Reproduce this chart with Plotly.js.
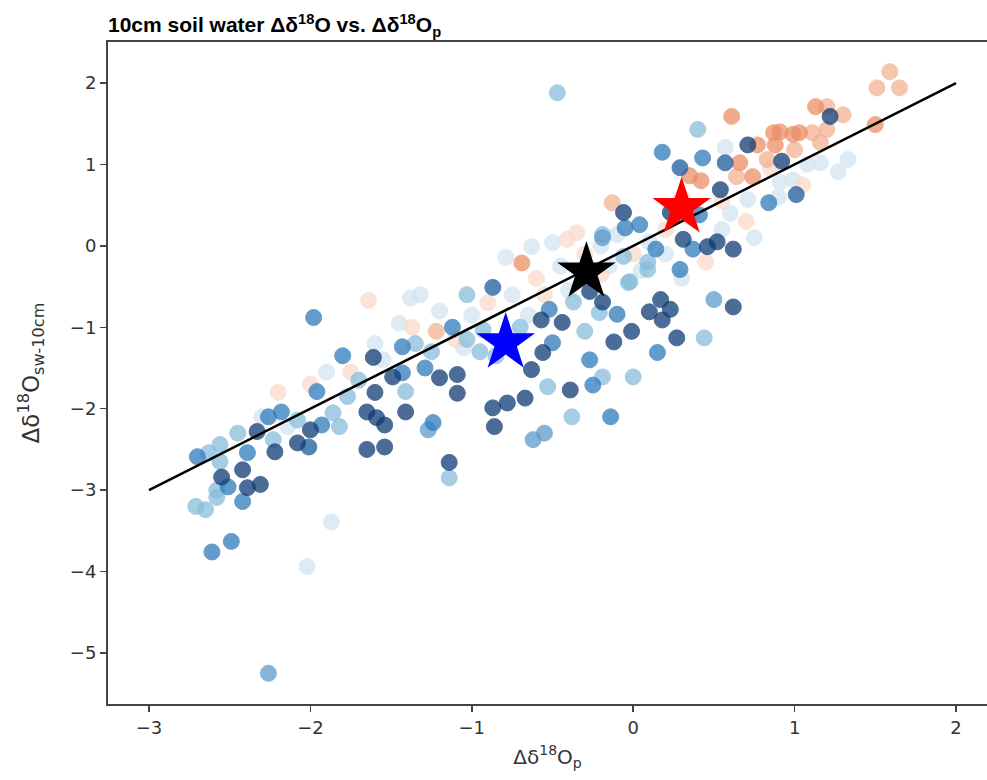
<!DOCTYPE html>
<html>
<head>
<meta charset="utf-8">
<script src="https://cdn.plot.ly/plotly-3.0.1.min.js"></script>
<style>html,body{margin:0;padding:0;background:#fff;}#chart{width:987px;height:780px;}</style>
</head>
<body>
<div id="chart"></div>
<script>
// ---- data ----
const veryLightX = [-2.14,-1.87,-2.02,-1.38,-1.32,-0.79,-0.63,-0.50,-0.10,0.57,1.16,1.33,1.27,1.08,0.91,0.99,0.71,-1.55,-1.00,-0.75,-0.45,-0.15,0.10,0.35,-1.90,-1.60,-1.45,-0.40,0.30,0.55,0.90,-2.30,-1.20,0.20,-0.20,0.60,-1.05,-0.65,0.05,0.75];
const veryLightY = [-2.22,-3.39,-3.94,-0.64,-0.60,-0.14,-0.01,0.04,0.14,1.21,1.02,1.06,0.91,1.00,0.78,0.81,0.57,-1.40,-0.85,-0.60,-0.25,-0.25,0.05,0.35,-1.55,-1.20,-0.95,-0.55,-0.40,0.20,0.60,-2.10,-0.80,-0.10,0.00,0.40,-1.25,-0.85,-0.30,0.10];

const paleOrangeX = [-1.64,-1.37,-0.35,-0.41,-0.90,-0.60,-0.30,0.00,0.20,-2.20,-2.00,-0.55,0.45,0.70,1.05,-1.10,-1.75,0.30,0.55,-0.20,0.85];
const paleOrangeY = [-0.67,-1.00,0.16,0.08,-0.70,-0.40,-0.10,-0.10,0.20,-1.80,-1.70,-0.60,-0.20,0.30,0.75,-1.15,-1.55,0.60,0.55,-0.35,0.95];

const orangeLightX = [1.59,1.51,1.65,1.30,1.20,1.11,1.16,1.20,1.00,0.83,0.64,-0.13,-1.22];
const orangeLightY = [2.14,1.94,1.94,1.61,1.71,1.39,1.27,1.43,1.18,1.06,0.85,0.53,-1.05];

const orangeX = [1.50,0.61,1.13,0.77,0.66,0.87,0.91,0.99,1.03,0.88,0.74,0.42,-0.69,0.35];
const orangeY = [1.49,1.59,1.71,1.24,1.02,1.39,1.40,1.37,1.39,1.24,0.85,0.80,-0.21,0.86];

const lightX = [-2.63,-2.56,-2.56,-2.45,-2.58,-2.58,-2.71,-2.65,-2.23,-1.86,-1.77,-2.08,-1.82,-1.14,-1.03,-1.41,-0.53,-1.03,-0.93,-0.19,0.09,-0.02,0.44,-0.30,-0.19,0.00,-0.38,-0.37,-0.21,0.40,-0.06,0.09,-0.03,-0.47,-0.85,-0.70,-0.95,-1.70,-1.35,-1.25];
const lightY = [-2.54,-2.44,-2.65,-2.30,-3.00,-3.09,-3.20,-3.24,-2.38,-2.05,-1.85,-2.14,-2.22,-2.85,-0.60,-1.79,-1.73,-1.15,-1.03,0.14,-0.20,-0.44,-1.13,-1.05,-1.61,-1.61,-2.10,-0.69,-0.82,1.43,-0.13,-0.29,-0.45,1.88,-1.35,-1.00,-1.30,-1.65,-1.20,-1.30];

const lightMedX = [-2.26,-1.27,-0.62,-0.55,0.50,-0.19];
const lightMedY = [-5.25,-2.26,-2.38,-2.30,-0.66,0.10];

const mediumX = [-2.70,-2.39,-2.51,-2.42,-2.26,-2.18,-1.93,-1.96,-2.61,-2.49,-1.98,-1.80,-1.43,-1.12,-1.43,-1.29,-1.24,-0.05,0.04,0.37,0.29,0.14,0.15,-0.10,-0.50,-0.27,-0.25,-0.14,-0.52,0.18,0.43,0.84,0.41];
const mediumY = [-2.59,-2.54,-2.96,-3.14,-2.10,-2.04,-2.20,-1.79,-3.76,-3.63,-0.88,-1.35,-1.24,-1.00,-1.56,-1.50,-2.17,0.22,0.26,-0.04,-0.29,-0.04,-1.31,-0.84,-1.19,-1.40,-1.71,-2.10,-0.78,1.15,1.08,0.53,0.38];

const medDarkX = [-2.01,-0.87,0.29,0.57,1.01];
const medDarkY = [-2.47,-0.51,0.96,1.02,0.63];

const darkX = [-2.42,-2.55,-2.39,-2.31,-2.33,-2.22,-2.08,-2.00,-1.14,-1.61,-1.60,-1.49,-1.41,-1.65,-1.59,-1.54,-1.65,-1.54,-1.20,-1.09,-1.09,-0.87,-0.78,-0.67,-0.86,-0.63,-0.56,0.31,0.46,0.52,0.62,0.62,0.17,0.10,0.23,0.18,-0.01,-0.12,0.27,-0.19,-0.27,-0.39,-0.44,-0.57,1.22,0.71,0.92,0.54,-0.06,0.23];
const darkY = [-2.75,-2.84,-2.97,-2.93,-2.28,-2.53,-2.42,-2.26,-2.66,-1.37,-1.80,-1.61,-2.04,-2.04,-2.11,-2.20,-2.50,-2.47,-1.62,-1.58,-1.81,-1.99,-1.93,-1.87,-2.22,-1.52,-1.31,0.08,-0.01,0.05,-0.04,-0.75,-0.66,-0.81,-0.78,-0.91,-1.05,-1.18,-1.13,-0.69,-0.56,-1.77,-0.94,-0.91,1.59,1.24,1.04,0.69,0.41,0.41];

const fitX = [-3, 2];
const fitY = [-3, 2];

const starRed = {x: [0.30], y: [0.47]};
const starBlack = {x: [-0.29], y: [-0.32]};
const starBlue = {x: [-0.79], y: [-1.19]};

const xTicks = [-3, -2, -1, 0, 1, 2];
const xTickText = ['\u22123', '\u22122', '\u22121', '0', '1', '2'];
const yTicks = [-5, -4, -3, -2, -1, 0, 1, 2];
const yTickText = ['\u22125', '\u22124', '\u22123', '\u22122', '\u22121', '0', '1', '2'];

// ---- traces ----
function group(x, y, color) {
  return {
    type: 'scatter', mode: 'markers', x: x, y: y, hoverinfo: 'skip',
    marker: {size: 16, color: color, opacity: 0.75, line: {color: color, width: 1}},
    showlegend: false
  };
}
const traces = [
  group(veryLightX, veryLightY, '#d4e5f1'),
  group(paleOrangeX, paleOrangeY, '#fadacb'),
  group(orangeLightX, orangeLightY, '#f2b293'),
  group(orangeX, orangeY, '#ec8e66'),
  group(lightX, lightY, '#88bddb'),
  group(lightMedX, lightMedY, '#5d9ccc'),
  group(mediumX, mediumY, '#2f7bbb'),
  group(medDarkX, medDarkY, '#1d5b9c'),
  group(darkX, darkY, '#0e3b75'),
  {type: 'scatter', mode: 'lines', x: fitX, y: fitY, line: {color: '#000', width: 2.5}, showlegend: false, hoverinfo: 'skip'},
  {type: 'scatter', mode: 'markers', x: starRed.x, y: starRed.y, marker: {symbol: 'star', size: 44, color: '#ff0000'}, showlegend: false},
  {type: 'scatter', mode: 'markers', x: starBlack.x, y: starBlack.y, marker: {symbol: 'star', size: 44, color: '#000000'}, showlegend: false},
  {type: 'scatter', mode: 'markers', x: starBlue.x, y: starBlue.y, marker: {symbol: 'star', size: 44, color: '#0000ff'}, showlegend: false}
];

const tickFont = {family: 'DejaVu Sans', size: 18, color: '#333'};
const layout = {
  width: 987, height: 780,
  margin: {l: 108, r: 0, t: 42, b: 76},
  paper_bgcolor: '#fff', plot_bgcolor: '#fff',
  title: {
    text: '<b>10cm soil water \u0394\u03b4<sup>18</sup>O vs. \u0394\u03b4<sup>18</sup>O<sub>p</sub></b>',
    font: {family: 'Liberation Sans', size: 21, color: '#000'},
    xref: 'paper', x: 0, xanchor: 'left',
    yref: 'container', y: 1 - 25 / 780, yanchor: 'middle'
  },
  xaxis: {
    range: [-3.254, 2.192], tickvals: xTicks, ticktext: xTickText,
    showgrid: false, zeroline: false,
    showline: true, linecolor: '#444', linewidth: 2, mirror: true,
    ticks: 'outside', ticklen: 6, tickwidth: 1.5, tickcolor: '#444',
    tickfont: tickFont,
    title: {text: '\u0394\u03b4<sup>18</sup>O<sub>p</sub>', font: {family: 'DejaVu Sans', size: 20, color: '#333'}, standoff: 13}
  },
  yaxis: {
    range: [-5.627, 2.504], tickvals: yTicks, ticktext: yTickText,
    showgrid: false, zeroline: false,
    showline: true, linecolor: '#444', linewidth: 2,
    ticks: 'outside', ticklen: 6, tickwidth: 1.5, tickcolor: '#444',
    tickfont: tickFont,
    title: {text: '\u0394\u03b4<sup>18</sup>O<sub>sw-10cm</sub>', font: {family: 'DejaVu Sans', size: 23, color: '#333'}, standoff: 24}
  }
};
Plotly.newPlot('chart', traces, layout, {displayModeBar: false, staticPlot: true});
</script>
</body>
</html>
